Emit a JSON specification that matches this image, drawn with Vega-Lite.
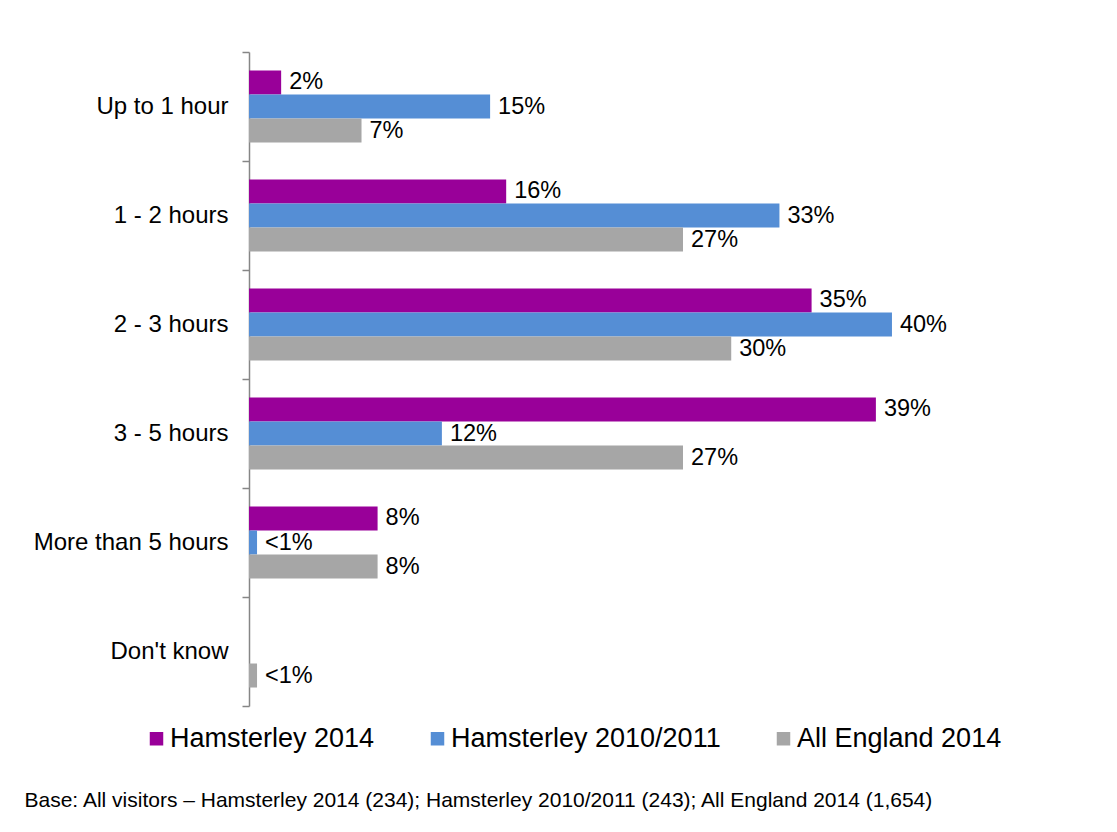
{
  "$schema": "https://vega.github.io/schema/vega-lite/v6.json",
  "autosize": {"type": "none"},
  "padding": {"left": 249, "top": 52, "right": 0, "bottom": 126},
  "width": 868,
  "height": 654,
  "background": "white",
  "config": {
    "view": {"stroke": null},
    "font": "Liberation Sans"
  },
  "data": {
    "values": [
      {"duration": "Up to 1 hour", "series": "Hamsterley 2014", "value": 2, "label": "2%"},
      {"duration": "Up to 1 hour", "series": "Hamsterley 2010/2011", "value": 15, "label": "15%"},
      {"duration": "Up to 1 hour", "series": "All England 2014", "value": 7, "label": "7%"},
      {"duration": "1 - 2 hours", "series": "Hamsterley 2014", "value": 16, "label": "16%"},
      {"duration": "1 - 2 hours", "series": "Hamsterley 2010/2011", "value": 33, "label": "33%"},
      {"duration": "1 - 2 hours", "series": "All England 2014", "value": 27, "label": "27%"},
      {"duration": "2 - 3 hours", "series": "Hamsterley 2014", "value": 35, "label": "35%"},
      {"duration": "2 - 3 hours", "series": "Hamsterley 2010/2011", "value": 40, "label": "40%"},
      {"duration": "2 - 3 hours", "series": "All England 2014", "value": 30, "label": "30%"},
      {"duration": "3 - 5 hours", "series": "Hamsterley 2014", "value": 39, "label": "39%"},
      {"duration": "3 - 5 hours", "series": "Hamsterley 2010/2011", "value": 12, "label": "12%"},
      {"duration": "3 - 5 hours", "series": "All England 2014", "value": 27, "label": "27%"},
      {"duration": "More than 5 hours", "series": "Hamsterley 2014", "value": 8, "label": "8%"},
      {"duration": "More than 5 hours", "series": "Hamsterley 2010/2011", "value": 0.5, "label": "<1%"},
      {"duration": "More than 5 hours", "series": "All England 2014", "value": 8, "label": "8%"},
      {"duration": "Don't know", "series": "All England 2014", "value": 0.5, "label": "<1%"}
    ]
  },
  "encoding": {
    "y": {
      "field": "duration",
      "type": "nominal",
      "sort": null,
      "scale": {"paddingInner": 0, "paddingOuter": 0},
      "axis": {
        "title": null,
        "bandPosition": 1,
        "tickExtra": true,
        "tickSize": 7,
        "tickColor": "#868686",
        "domainColor": "#868686",
        "tickWidth": 1.5,
        "domainWidth": 1.5,
        "labelPadding": 14,
        "labelFontSize": 24,
        "labelColor": "#000000",
        "labelFont": "Liberation Sans",
        "labelLimit": 400
      }
    },
    "yOffset": {
      "field": "series",
      "type": "nominal",
      "sort": ["Hamsterley 2014", "Hamsterley 2010/2011", "All England 2014"],
      "scale": {"paddingInner": 0, "paddingOuter": 0.77}
    },
    "x": {
      "field": "value",
      "type": "quantitative",
      "scale": {"domain": [0, 54], "nice": false},
      "axis": {
        "domain": false,
        "ticks": false,
        "labels": false,
        "grid": false,
        "title": "Base: All visitors – Hamsterley 2014 (234); Hamsterley 2010/2011 (243); All England 2014 (1,654)",
        "titleX": -225,
        "titleY": 94,
        "titleAnchor": "start",
        "titleAlign": "left",
        "titleBaseline": "middle",
        "titleFontWeight": "normal",
        "titleFontSize": 21,
        "titleColor": "#000000",
        "titleFont": "Liberation Sans",
        "titleLimit": 1000
      }
    }
  },
  "layer": [
    {
      "mark": {"type": "bar"},
      "encoding": {
        "color": {
          "field": "series",
          "type": "nominal",
          "scale": {
            "domain": ["Hamsterley 2014", "Hamsterley 2010/2011", "All England 2014"],
            "range": ["#990099", "#558ED5", "#A6A6A6"]
          },
          "legend": {
            "title": null,
            "orient": "none",
            "direction": "horizontal",
            "legendX": -106,
            "legendY": 673,
            "symbolType": "square",
            "symbolSize": 182,
            "symbolStrokeWidth": 0,
            "symbolOpacity": 1,
            "labelFontSize": 27,
            "labelFont": "Liberation Sans",
            "labelColor": "#000000",
            "labelOffset": 0,
            "columnPadding": 49,
            "labelLimit": 400
          }
        }
      }
    },
    {
      "mark": {"type": "text", "align": "left", "baseline": "middle", "dx": 8, "fontSize": 23.5, "font": "Liberation Sans", "color": "#000000"},
      "encoding": {
        "text": {"field": "label"}
      }
    }
  ]
}
